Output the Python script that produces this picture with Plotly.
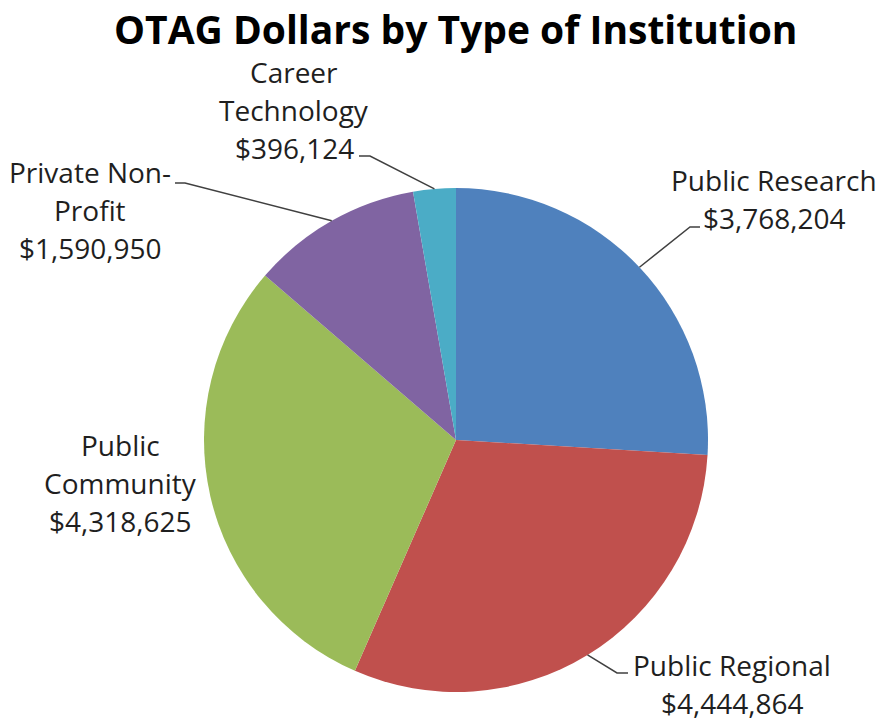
import math
import plotly.graph_objects as go

# ---- data ----
categories = ["Public Research", "Public Regional", "Public Community",
              "Private Non-Profit", "Career Technology"]
values = [3768204, 4444864, 4318625, 1590950, 396124]
label_lines = [
    ["Public Research"],
    ["Public Regional"],
    ["Public", "Community"],
    ["Private Non-", "Profit"],
    ["Career", "Technology"],
]
colors = ["#4F81BD", "#C0504D", "#9BBB59", "#8064A2", "#4BACC6"]
title_text = "OTAG Dollars by Type of Institution"

# ---- layout constants (page pixels) ----
W, H = 882, 723
CX, CY, R = 456, 440, 252
FONT = "Open Sans"
TXT = "#1f1f1f"

def px(x):
    return x / W

def py(y):
    return 1 - y / H

# label placement: (center x, first-line y) in px; leader elbow/end or None
label_pos = [
    (774, 180),
    (732, 665),
    (120, 445),
    (90, 172),
    (294, 72),
]
leaders = [
    [(690, 227), (700, 227)],
    [(617, 673), (628, 673)],
    None,
    [(185, 183), (175, 183)],
    [(370, 156), (359, 156)],
]
LINE_H = 38.0

fig = go.Figure(go.Pie(
    labels=categories,
    values=values,
    sort=False,
    direction="clockwise",
    rotation=0,
    marker=dict(colors=colors, line=dict(width=0)),
    textinfo="none",
    hoverinfo="skip",
    domain=dict(x=[px(CX - R), px(CX + R)], y=[py(CY + R), py(CY - R)]),
))

annotations = []
shapes = []
total = sum(values)
cum = 0.0
for i, v in enumerate(values):
    mid = (cum + v / 2) / total * 2 * math.pi
    cum += v
    ex = CX + R * math.sin(mid)
    ey = CY - R * math.cos(mid)
    lines = label_lines[i] + ["${:,}".format(v)]
    lx, ly = label_pos[i]
    for j, t in enumerate(lines):
        annotations.append(dict(
            x=px(lx), y=py(ly + j * LINE_H), xref="paper", yref="paper",
            text=t, showarrow=False, xanchor="center", yanchor="middle",
            font=dict(family=FONT, size=28, color=TXT),
        ))
    if leaders[i]:
        pts = [(ex, ey)] + leaders[i]
        path = "M " + " L ".join(f"{px(a):.5f},{py(b):.5f}" for a, b in pts)
        shapes.append(dict(type="path", path=path, xref="paper", yref="paper",
                           line=dict(color="#404040", width=1.5)))

annotations.append(dict(
    x=px(455), y=py(29), xref="paper", yref="paper",
    text="<b>" + title_text + "</b>", showarrow=False,
    xanchor="center", yanchor="middle",
    font=dict(family=FONT, size=39, color="#000000"),
))

fig.update_layout(
    width=W, height=H,
    margin=dict(l=0, r=0, t=0, b=0),
    paper_bgcolor="white", plot_bgcolor="white",
    showlegend=False,
    annotations=annotations,
    shapes=shapes,
)

fig.write_html(
    "out.html",
    config={"displayModeBar": False},
    post_script="document.body.style.margin='0';document.body.style.overflow='hidden';",
)
